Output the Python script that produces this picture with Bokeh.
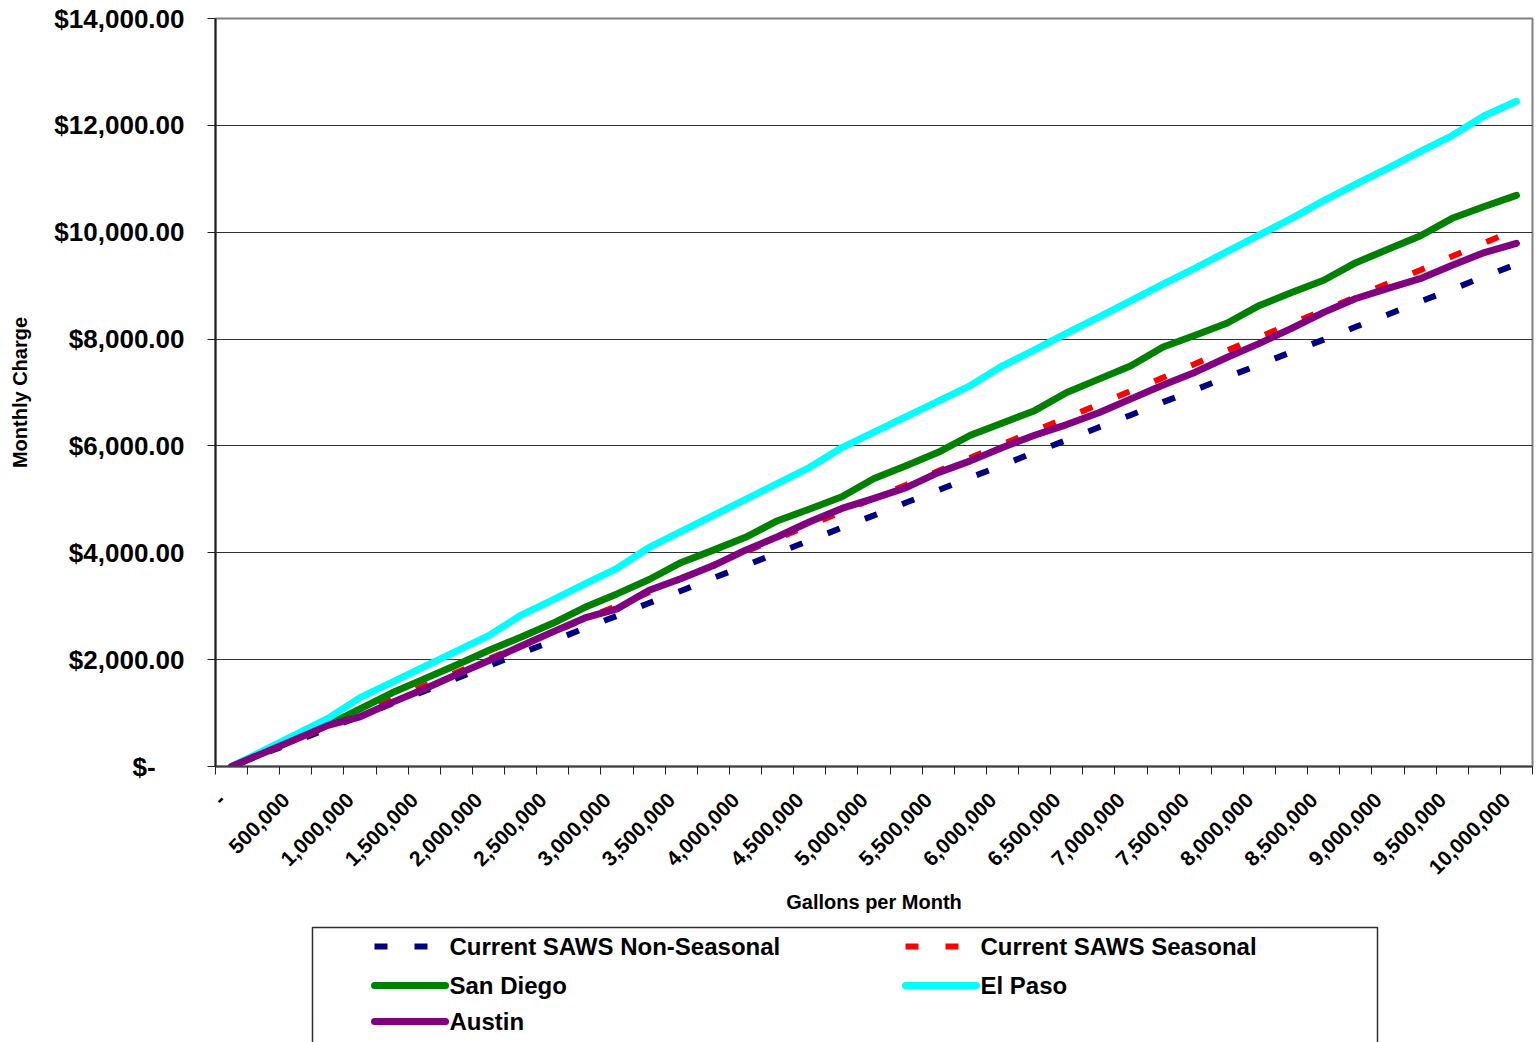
from bokeh.plotting import figure
from bokeh.models import Range1d, FixedTicker
from bokeh.layouts import column
from bokeh.embed import file_html
from bokeh.resources import INLINE
from bokeh.core.properties import value

# ---------------- data ----------------
gallons = [0, 250000, 500000, 750000, 1000000, 1250000, 1500000, 1750000, 2000000,
           2250000, 2500000, 2750000, 3000000, 3250000, 3500000, 3750000, 4000000,
           4250000, 4500000, 4750000, 5000000, 5250000, 5500000, 5750000, 6000000,
           6250000, 6500000, 6750000, 7000000, 7250000, 7500000, 7750000, 8000000,
           8250000, 8500000, 8750000, 9000000, 9250000, 9500000, 9750000, 10000000]

saws_non_seasonal = [0, 240, 470, 710, 940, 1180, 1410, 1650, 1880, 2120, 2350, 2590, 2820,
                     3060, 3290, 3530, 3760, 4000, 4230, 4470, 4700, 4940, 5170, 5410, 5640,
                     5880, 6110, 6350, 6580, 6820, 7050, 7290, 7520, 7760, 7990, 8230, 8460,
                     8700, 8930, 9170, 9400]
saws_seasonal = [0, 250, 500, 750, 1000, 1250, 1510, 1760, 2010, 2260, 2510, 2760, 3010,
                 3260, 3520, 3770, 4020, 4270, 4520, 4770, 5020, 5270, 5530, 5780, 6030,
                 6280, 6530, 6780, 7030, 7280, 7540, 7790, 8040, 8290, 8540, 8790, 9040,
                 9290, 9550, 9800, 10050]
san_diego = [0, 260, 520, 780, 1080, 1380, 1640, 1900, 2170, 2420, 2680, 2980, 3230,
             3500, 3820, 4050, 4290, 4600, 4820, 5050, 5390, 5630, 5880, 6200, 6430,
             6660, 7000, 7250, 7500, 7850, 8070, 8300, 8630, 8870, 9100, 9430, 9680,
             9930, 10260, 10480, 10690]
el_paso = [0, 300, 600, 900, 1290, 1580, 1870, 2160, 2450, 2830, 3120, 3420, 3710,
           4100, 4400, 4700, 5000, 5300, 5600, 5970, 6260, 6550, 6840, 7130, 7500,
           7800, 8110, 8410, 8720, 9030, 9330, 9640, 9950, 10260, 10590, 10900, 11200,
           11510, 11810, 12180, 12450]
austin = [0, 255, 510, 770, 930, 1200, 1450, 1720, 1980, 2250, 2520, 2780, 2950,
          3300, 3520, 3760, 4050, 4300, 4580, 4830, 5020, 5220, 5500, 5720, 5970,
          6200, 6400, 6620, 6880, 7140, 7380, 7660, 7920, 8200, 8500, 8760, 8950,
          9130, 9380, 9620, 9790]

y_ticks = [0, 2000, 4000, 6000, 8000, 10000, 12000, 14000]

series_names = ["Current SAWS Non-Seasonal", "Current SAWS Seasonal", "San Diego", "El Paso", "Austin"]
series_colors = ["#000080", "#FF0000", "#008000", "#00FFFF", "#800080"]

FONT = "Liberation Sans"

# ---------------- main chart ----------------
idx = list(range(len(gallons)))

p = figure(width=1540, height=920,
           x_range=Range1d(-0.5, len(gallons) - 0.5),
           y_range=Range1d(0, 14000),
           output_backend="svg", toolbar_location=None,
           min_border_left=215, min_border_right=8,
           min_border_top=18, min_border_bottom=154)
p.background_fill_color = "white"
p.border_fill_color = "white"
p.outline_line_color = "#808080"
p.outline_line_width = 2

p.xgrid.visible = False
p.ygrid.grid_line_color = "#303030"
p.ygrid.grid_line_width = 1
p.ygrid.ticker = FixedTicker(ticks=y_ticks)

# y axis
def money(v):
    if v == 0:
        return "$-\u00a0\u00a0\u00a0\u00a0"
    return "${:,.2f}".format(v)

yax = p.yaxis[0]
yax.ticker = FixedTicker(ticks=y_ticks)
yax.major_label_overrides = {t: money(t) for t in y_ticks}
yax.major_label_text_font = FONT
yax.major_label_text_font_style = "bold"
yax.major_label_text_font_size = "26px"
yax.major_label_text_color = "black"
yax.major_tick_out = 8
yax.major_tick_in = 0
yax.minor_tick_out = 0
yax.minor_tick_in = 0
yax.major_label_standoff = 23
yax.axis_line_color = "#202020"
yax.axis_line_width = 2
yax.major_tick_line_color = "#202020"
yax.axis_label = "Monthly Charge"
yax.axis_label_text_font = FONT
yax.axis_label_text_font_style = "bold"
yax.axis_label_text_font_size = "20px"
yax.axis_label_text_color = "black"
yax.axis_label_standoff = 20

# x axis (labels every second category; tick marks on category boundaries)
LABEL_SHIFT = 0.3
even_idx = [i for i in idx if i % 2 == 0]
def gal_label(g):
    return "-" if g == 0 else "{:,}".format(g)

label_pos = [i - LABEL_SHIFT for i in even_idx]
xax = p.xaxis[0]
xax.ticker = FixedTicker(ticks=label_pos, minor_ticks=[i - 0.5 for i in range(len(gallons) + 1)])
xax.major_label_overrides = {i - LABEL_SHIFT: gal_label(gallons[i]) for i in even_idx}
xax.major_label_orientation = 0.7853981634
xax.major_label_text_font = FONT
xax.major_label_text_font_style = "bold"
xax.major_label_text_font_size = "21px"
xax.major_label_text_color = "black"
xax.major_tick_out = 0
xax.major_tick_in = 0
xax.minor_tick_out = 8
xax.minor_tick_in = 0
xax.minor_tick_line_color = "#202020"
xax.major_label_standoff = 22
xax.axis_line_color = "#404040"
xax.axis_line_width = 2
xax.axis_label = "Gallons per Month"
xax.axis_label_text_font = FONT
xax.axis_label_text_font_style = "bold"
xax.axis_label_text_font_size = "20px"
xax.axis_label_text_color = "black"
xax.axis_label_standoff = 7

series = [saws_non_seasonal, saws_seasonal, san_diego, el_paso, austin]
for name, vals, col in zip(series_names, series, series_colors):
    if "SAWS" in name:
        p.line(idx, vals, line_color=col, line_width=6, line_dash="13 27", line_cap="butt")
    else:
        p.line(idx, vals, line_color=col, line_width=7, line_cap="round", line_join="round")

# ---------------- legend (drawn below, in page-pixel coordinates) ----------------
leg = figure(width=1540, height=122, x_range=Range1d(215, 1532), y_range=Range1d(0, 122),
             output_backend="svg", toolbar_location=None,
             x_axis_type=None, y_axis_type=None,
             min_border_left=215, min_border_right=8, min_border_top=0, min_border_bottom=0)
leg.grid.visible = False
leg.outline_line_color = None
leg.background_fill_color = "white"
leg.border_fill_color = "white"

leg.line([312, 312, 1377, 1377], [-10, 115, 115, -10], line_color="#303030", line_width=1.5)

slots = [(374, 96), (905, 96), (374, 57), (905, 57), (374, 21)]
for (sx, sy), name, col in zip(slots, series_names, series_colors):
    if "SAWS" in name:
        leg.line([sx, sx + 71], [sy, sy], line_color=col, line_width=6, line_dash="13 27", line_cap="butt")
    else:
        leg.line([sx, sx + 71], [sy, sy], line_color=col, line_width=7, line_cap="round")
    leg.text([sx + 75], [sy], text=[name], text_font=value(FONT), text_font_style="bold",
             text_font_size="24px", text_baseline="middle", text_align="left", text_color="black")

layout = column(p, leg, spacing=0)
open("out.html", "w").write(file_html(layout, INLINE))
